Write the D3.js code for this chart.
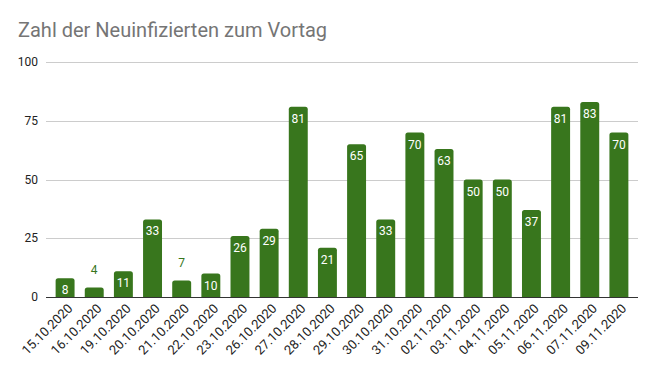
<!DOCTYPE html>
<html>
<head>
<meta charset="utf-8">
<script src="https://cdn.jsdelivr.net/npm/d3@7"></script>
<style>
	body { margin: 0; background: #fff; }
	svg { display: block; font-family: Roboto, "Noto Sans", sans-serif; }
	.grid line { stroke: #cccccc; stroke-width: 1; }
	.ytick { fill: #222; font-size: 12px; }
	.xtick { fill: #222; font-size: 13px; }
</style>
</head>
<body>
<div class="chart"></div>
<script>
var dates = ["15.10.2020", "16.10.2020", "19.10.2020", "20.10.2020", "21.10.2020",
	"22.10.2020", "23.10.2020", "26.10.2020", "27.10.2020", "28.10.2020",
	"29.10.2020", "30.10.2020", "31.10.2020", "02.11.2020", "03.11.2020",
	"04.11.2020", "05.11.2020", "06.11.2020", "07.11.2020", "09.11.2020"];
var cases = [8, 4, 11, 33, 7, 10, 26, 29, 81, 21, 65, 33, 70, 63, 50, 50, 37, 81, 83, 70];
var yTicks = [0, 25, 50, 75, 100];
var title = "Zahl der Neuinfizierten zum Vortag";

var width = 657, height = 371;
var plotLeft = 46, plotRight = 638, plotTop = 62, plotBottom = 297;
var green = "#38761d";

var svg = d3.select(".chart").append("svg")
	.attr("width", width)
	.attr("height", height);

svg.append("text")
	.attr("x", 18)
	.attr("y", 37)
	.attr("fill", "#757575")
	.style("font-size", "20px")
	.text(title);

var x = d3.scaleBand()
	.domain(dates)
	.range([plotLeft, plotRight])
	.paddingInner(0.35)
	.paddingOuter(0.33);

var y = d3.scaleLinear()
	.domain([0, 100])
	.range([plotBottom, plotTop]);

//gridlines and y labels
var grid = svg.append("g").attr("class", "grid");
yTicks.forEach(function(t) {
	if (t > 0) {
		grid.append("line")
			.attr("x1", plotLeft).attr("x2", plotRight)
			.attr("y1", Math.round(y(t)) + 0.5).attr("y2", Math.round(y(t)) + 0.5);
	}
	svg.append("text")
		.attr("class", "ytick")
		.attr("x", 38)
		.attr("y", y(t))
		.attr("dy", "0.35em")
		.attr("text-anchor", "end")
		.text(t);
});

function barPath(x0, w, yTop, yBot, r) {
	var h = yBot - yTop;
	r = Math.min(r, h / 2, w / 2);
	return "M" + x0 + "," + yBot +
		"V" + (yTop + r) +
		"Q" + x0 + "," + yTop + " " + (x0 + r) + "," + yTop +
		"H" + (x0 + w - r) +
		"Q" + (x0 + w) + "," + yTop + " " + (x0 + w) + "," + (yTop + r) +
		"V" + yBot + "Z";
}

var bars = svg.append("g");
cases.forEach(function(v, i) {
	var d = dates[i];
	var bx = x(d), bw = x.bandwidth(), by = y(v);
	bars.append("path")
		.attr("d", barPath(bx, bw, by, plotBottom, 2.5))
		.attr("fill", green);

	//labels go above bars that are too short to hold them
	var inside = (plotBottom - by) > 17;
	svg.append("text")
		.attr("x", bx + bw / 2)
		.attr("y", inside ? Math.min(by + 16, plotBottom - 3) : by - 14)
		.attr("text-anchor", "middle")
		.attr("fill", inside ? "#ffffff" : green)
		.style("font-size", "12px")
		.text(v);
});

//baseline
svg.append("line")
	.attr("x1", plotLeft).attr("x2", plotRight)
	.attr("y1", plotBottom + 0.5).attr("y2", plotBottom + 0.5)
	.attr("stroke", "#333")
	.attr("stroke-width", 1);

//rotated date labels
dates.forEach(function(d) {
	var cx = x(d) + x.bandwidth() / 2;
	svg.append("text")
		.attr("class", "xtick")
		.attr("text-anchor", "end")
		.attr("transform", "translate(" + (cx + 5) + "," + (plotBottom + 9) + ") rotate(-45)")
		.attr("dy", "0.35em")
		.text(d);
});
</script>
</body>
</html>
